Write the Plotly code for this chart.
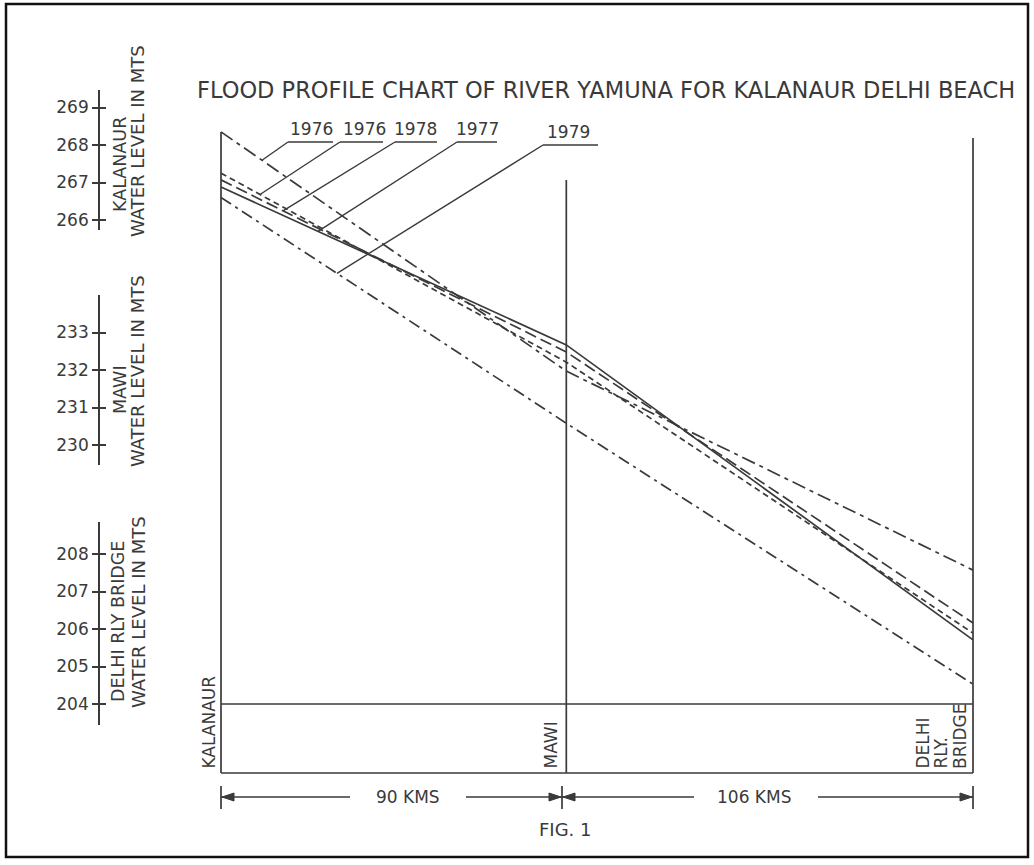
import numpy as np
import plotly.graph_objects as go

W, H = 1034, 865

# ---------------- data ----------------
station_names = ["KALANAUR", "MAWI", "DELHI RLY. BRIDGE"]
station_km = [0, 90, 196]
segment_km = [90, 106]

years = ["1976", "1976", "1978", "1977", "1979"]
kalanaur_level = [268.35, 267.25, 267.07, 266.88, 266.60]
mawi_level = [231.97, 232.21, 232.48, 232.67, 230.58]
delhi_level = [207.57, 205.89, 206.16, 205.71, 204.53]

kalanaur_ticks = [266, 267, 268, 269]
mawi_ticks = [230, 231, 232, 233]
delhi_ticks = [204, 205, 206, 207, 208]

# ---------------- drawing layout (pixels of the sheet) ----------------
X0_PX, X1_PX = 221, 973
PX_PER_KM = (X1_PX - X0_PX) / station_km[-1]
PX_PER_M = 37.5
# reference level & pixel row of each gauge
gauge_ref = [(266.0, 220.0), (233.0, 332.5), (206.0, 629.0)]


def px2km(px):
    return (px - X0_PX) / PX_PER_KM


def py2c(py):  # common (Kalanaur-equivalent) axis
    return gauge_ref[0][0] - (py - gauge_ref[0][1]) / PX_PER_M


def lvl2c(level, s):
    ref_l, ref_py = gauge_ref[s]
    return py2c(ref_py - (level - ref_l) * PX_PER_M)


def gauge_val(py, s):
    ref_l, ref_py = gauge_ref[s]
    return ref_l - (py - ref_py) / PX_PER_M


def ppx(px):
    return px / W


def ppy(py):
    return 1 - py / H


INK = "#3a3a3a"
FONT = "DejaVu Sans"

fig = go.Figure()

dashes = ["14px,5px,4px,5px", "6px,4px", "12px,5px", "solid", "12px,5px,3px,5px"]
series_c = []
for i, yr in enumerate(years):
    yc = [lvl2c(kalanaur_level[i], 0), lvl2c(mawi_level[i], 1), lvl2c(delhi_level[i], 2)]
    series_c.append(yc)
    fig.add_trace(go.Scatter(x=station_km, y=yc, mode="lines", name=yr,
                             line=dict(color=INK, width=1.7, dash=dashes[i]),
                             showlegend=False, hoverinfo="skip"))

# dummy traces so gauge axes get drawn
for ax in ["y2", "y3", "y4", "y5", "y6", "y7"]:
    fig.add_trace(go.Scatter(x=[None], y=[None], xaxis="x", yaxis=ax,
                             showlegend=False, hoverinfo="skip"))

shapes = []
line_style = dict(color=INK, width=1.7)
# station verticals
tops = [132, 180, 138]
for km, top in zip(station_km, tops):
    shapes.append(dict(type="line", xref="x", yref="y", x0=km, x1=km,
                       y0=py2c(773), y1=py2c(top), line=line_style))
# baseline and 204 datum line
shapes.append(dict(type="line", xref="x", yref="y", x0=station_km[0], x1=station_km[-1],
                   y0=py2c(773), y1=py2c(773), line=line_style))
shapes.append(dict(type="line", xref="x", yref="y", x0=station_km[0], x1=station_km[-1],
                   y0=lvl2c(delhi_ticks[0], 2), y1=lvl2c(delhi_ticks[0], 2), line=line_style))

# year labels with underline and leader
label_cfg = [  # (text center px, underline x0 px, x1 px, underline y px, target x px)
    (311, 288, 333, 142, 262),
    (364, 340, 383, 142, 260),
    (415, 395, 437, 142, 283),
    (477, 457, 497, 142, 318),
    (568, 543, 598, 145, 337),
]
annotations = []
for i, (tc, u0, u1, uy, tx) in enumerate(label_cfg):
    tkm = px2km(tx)
    ty = float(np.interp(tkm, station_km, series_c[i]))
    shapes.append(dict(type="line", xref="x", yref="y", x0=px2km(u0), x1=px2km(u1),
                       y0=py2c(uy), y1=py2c(uy), line=dict(color=INK, width=1.4)))
    shapes.append(dict(type="line", xref="x", yref="y", x0=px2km(u0), x1=tkm,
                       y0=py2c(uy), y1=ty, line=dict(color=INK, width=1.4)))
    annotations.append(dict(text=years[i], xref="paper", yref="paper",
                            x=ppx(tc), y=ppy(uy - 1), xanchor="center", yanchor="bottom",
                            showarrow=False, font=dict(family=FONT, size=17, color=INK)))

# dimension line
DY = 797
for a, b in [(221, 350), (466, 562), (562, 694), (818, 973)]:
    shapes.append(dict(type="line", xref="paper", yref="paper", x0=ppx(a), x1=ppx(b),
                       y0=ppy(DY), y1=ppy(DY), line=dict(color=INK, width=1.4)))
for xv in [221, 562, 973]:
    shapes.append(dict(type="line", xref="paper", yref="paper", x0=ppx(xv), x1=ppx(xv),
                       y0=ppy(786), y1=ppy(809), line=dict(color=INK, width=1.7)))


def tri(tip, direction):
    b = tip - 12 * direction
    return (f"M {ppx(tip)} {ppy(DY)} L {ppx(b)} {ppy(DY - 4)} L {ppx(b)} {ppy(DY + 4)} Z")


for tip, d in [(222, -1), (561, 1), (563, -1), (972, 1)]:
    shapes.append(dict(type="path", xref="paper", yref="paper", path=tri(tip, d),
                       fillcolor=INK, line=dict(color=INK, width=1)))

# frame
shapes.append(dict(type="rect", xref="paper", yref="paper", x0=ppx(6), x1=ppx(1028),
                   y0=ppy(857), y1=ppy(4), line=dict(color="#111", width=2.5)))


def ann(text, x, y, size, angle=0, xa="center", ya="middle"):
    annotations.append(dict(text=text, xref="paper", yref="paper", x=ppx(x), y=ppy(y),
                            xanchor=xa, yanchor=ya, textangle=angle, showarrow=False,
                            font=dict(family=FONT, size=size, color=INK)))


ann("FLOOD PROFILE CHART OF RIVER YAMUNA FOR KALANAUR DELHI BEACH", 606, 90, 22.5)
# gauge titles
ann("KALANAUR", 120, 165, 17.5, -90)
ann("WATER LEVEL IN MTS", 138, 141, 18, -90)
ann("MAWI", 120, 390, 17.5, -90)
ann("WATER LEVEL IN MTS", 138, 371, 18, -90)
ann("DELHI RLY BRIDGE", 118, 622, 17.5, -90)
ann("WATER LEVEL IN MTS", 138, 612, 18, -90)
# station names at base
ann(station_names[0], 208, 771, 17, -90, ya="bottom")
ann(station_names[1], 550, 771, 17, -90, ya="bottom")
for txt, xx in zip(station_names[2].split(" "), [922, 940, 960]):
    ann(txt, xx, 771, 17, -90, ya="bottom")
# distances
ann(f"{segment_km[0]} KMS", 408, DY, 17)
ann(f"{segment_km[1]} KMS", 754, DY, 17)
ann("FIG. 1", 565, 829, 18)

gauge_common = dict(anchor="free", position=ppx(99), side="left", showgrid=False,
                    zeroline=False, fixedrange=True)
gauge_spans = [(90, 230), (295, 465), (522, 725)]
gauge_ticks = [kalanaur_ticks, mawi_ticks, delhi_ticks]
layout_axes = {}
for s in range(3):
    top, bot = gauge_spans[s]
    rng = [gauge_val(bot, s), gauge_val(top, s)]
    layout_axes[f"yaxis{s + 2}"] = dict(
        domain=[ppy(bot), ppy(top)], range=rng, tickvals=gauge_ticks[s],
        ticks="outside", ticklen=6, tickwidth=1.5, tickcolor=INK,
        showline=True, linecolor=INK, linewidth=1.7,
        tickfont=dict(family=FONT, size=17, color=INK), **gauge_common)
    layout_axes[f"yaxis{s + 5}"] = dict(
        overlaying=f"y{s + 2}", range=rng, tickvals=gauge_ticks[s],
        ticks="inside", ticklen=6, tickwidth=1.5, tickcolor=INK,
        showline=False, showticklabels=False, **gauge_common)

fig.update_layout(
    width=W, height=H, margin=dict(l=0, r=0, t=0, b=0),
    paper_bgcolor="white", plot_bgcolor="rgba(0,0,0,0)",
    xaxis=dict(range=[px2km(0), px2km(W)], visible=False, domain=[0, 1], fixedrange=True),
    yaxis=dict(range=[py2c(H), py2c(0)], visible=False, domain=[0, 1], fixedrange=True),
    shapes=shapes, annotations=annotations, showlegend=False,
    **layout_axes,
)

fig.write_html("out.html", post_script="document.body.style.margin='0px';",
               config={"displayModeBar": False})
